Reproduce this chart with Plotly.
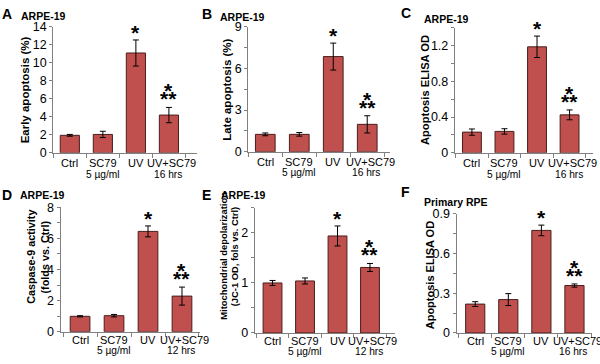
import plotly.graph_objects as go

W, H = 600, 364

# ---------------- data ----------------
x_idx = [0, 1, 2, 3]
cats_16h = ["Ctrl", "SC79<br>5 µg/ml", "UV", "UV+SC79<br>16 hrs"]
cats_12h = ["Ctrl", "SC79<br>5 µg/ml", "UV", "UV+SC79<br>12 hrs"]

early_apoptosis = [1.95, 2.05, 11.1, 4.2]
early_apoptosis_err = [0.1, 0.35, 1.45, 0.85]

late_apoptosis = [1.25, 1.25, 6.85, 1.97]
late_apoptosis_err = [0.1, 0.13, 0.97, 0.62]

elisa_arpe = [0.232, 0.24, 1.186, 0.425]
elisa_arpe_err = [0.035, 0.03, 0.12, 0.055]

caspase9 = [0.99, 1.03, 6.45, 2.29]
caspase9_err = [0.04, 0.08, 0.35, 0.58]

mito_depol = [1.0, 1.04, 1.94, 1.31]
mito_depol_err = [0.05, 0.06, 0.2, 0.08]

elisa_primary = [0.218, 0.252, 0.774, 0.358]
elisa_primary_err = [0.018, 0.045, 0.04, 0.012]

ticks_A = [0, 2, 4, 6, 8, 10, 12, 14]
ticks_B = [0, 3, 6, 9]
ticks_C = [0, 0.4, 0.8, 1.2]
ticks_C_text = ["0", "0.4", "0.8", "1.2"]
ticks_D = [0, 2, 4, 6, 8]
ticks_E = [0, 1, 2]
ticks_F = [0, 0.3, 0.6, 0.9]
ticks_F_text = ["0", "0.3", "0.6", "0.9"]

panels = [
    dict(letter="A", cell="ARPE-19", ytitle=["Early apoptosis (%)"], cats=cats_16h,
         vals=early_apoptosis, err=early_apoptosis_err, yticks=ticks_A, yticktext=None,
         yrange=[0, 14], minor=None),
    dict(letter="B", cell="ARPE-19", ytitle=["Late apoptosis (%)"], cats=cats_16h,
         vals=late_apoptosis, err=late_apoptosis_err, yticks=ticks_B, yticktext=None,
         yrange=[0, 9], minor=1.5),
    dict(letter="C", cell="ARPE-19", ytitle=["Apoptosis ELISA OD"], cats=cats_16h,
         vals=elisa_arpe, err=elisa_arpe_err, yticks=ticks_C, yticktext=ticks_C_text,
         yrange=[0, 1.4], minor=0.2),
    dict(letter="D", cell="ARPE-19", ytitle=["Caspase-9 activity", "(folds vs. Ctrl)"],
         cats=cats_12h, vals=caspase9, err=caspase9_err, yticks=ticks_D, yticktext=None,
         yrange=[0, 8], minor=1),
    dict(letter="E", cell="ARPE-19",
         ytitle=["Mitochondrial depolarization", "(JC-1 OD, fols vs. Ctrl)"],
         cats=cats_12h, vals=mito_depol, err=mito_depol_err, yticks=ticks_E, yticktext=None,
         yrange=[0, 2.5], minor=0.5),
    dict(letter="F", cell="Primary RPE", ytitle=["Apoptosis ELISA OD"], cats=cats_16h,
         vals=elisa_primary, err=elisa_primary_err, yticks=ticks_F, yticktext=ticks_F_text,
         yrange=[0, 0.9], minor=0.15),
]

# ---------------- geometry (pixels) ----------------
geom = [
    dict(x0=53.3, x1=197, yb=151.7, yt=20.7, xr=[-0.5, 3.85], lab=(10.8, 22),
         letter=(6.5, 7.5), cell=(19, 9.7), ytitle=([25], 86.7, 11.5)),
    dict(x0=248.3, x1=390, yb=150.5, yt=20.5, xr=[-0.5, 3.67], lab=(10.8, 22),
         letter=(206.5, 7), cell=(218, 10), ytitle=([227.5], 86.7, 11.5)),
    dict(x0=455, x1=593, yb=151.7, yt=21.5, xr=[-0.52, 3.72], lab=(10.8, 22),
         letter=(405.5, 6), cell=(421.7, 13), ytitle=([425.7], 86.7, 11.2)),
    dict(x0=60.7, x1=200, yb=337.7, yt=208.3, xr=[-0.57, 3.53], lab=(8.5, 19.8),
         letter=(6.5, 195), cell=(18, 195), ytitle=([30.8, 44.5], 260, 10.8)),
    dict(x0=255, x1=395, yb=339, yt=209, xr=[-0.54, 3.77], lab=(8.5, 19.5),
         letter=(206, 195), cell=(219, 195), ytitle=([222.7, 234.3], 259, 9.4)),
    dict(x0=456.7, x1=592, yb=339, yt=215, xr=[-0.56, 3.53], lab=(8, 19),
         letter=(405.5, 192), cell=(421.7, 203), ytitle=([430], 279, 11)),
]
label_xshift = [0, 0, 0, 3]

BAR = "#C0504D"
EDGE = "#4a1e1e"
AX = "#808080"
FONT = "Liberation Sans, Arial, sans-serif"
STAR = 21

fig = go.Figure()
annotations = []
layout = dict(
    width=W, height=H, margin=dict(l=0, r=0, t=0, b=0),
    paper_bgcolor="white", plot_bgcolor="white", showlegend=False,
    font=dict(family=FONT, color="black"),
)

for i, (p, g) in enumerate(zip(panels, geom), start=1):
    xa = "x" if i == 1 else f"x{i}"
    ya = "y" if i == 1 else f"y{i}"
    fig.add_trace(go.Bar(
        x=x_idx, y=p["vals"], width=0.58,
        marker=dict(color=BAR, line=dict(color=EDGE, width=1)),
        error_y=dict(type="data", array=p["err"], color="black", thickness=1, width=3),
        xaxis=xa, yaxis=ya, hoverinfo="skip",
    ))
    xkey = "xaxis" if i == 1 else f"xaxis{i}"
    ykey = "yaxis" if i == 1 else f"yaxis{i}"
    layout[xkey] = dict(
        domain=[g["x0"] / W, g["x1"] / W], anchor=ya, range=g["xr"],
        tickvals=x_idx, showticklabels=False, ticks="",
        showgrid=False, zeroline=False,
        showline=True, linecolor=AX, linewidth=1.2,
        minor=dict(tickmode="array", tickvals=[-0.5, 0.5, 1.5, 2.5, 3.5],
                   ticks="outside", ticklen=4, tickcolor=AX, tickwidth=1),
        fixedrange=True,
    )
    ydict = dict(
        domain=[1 - g["yb"] / H, 1 - g["yt"] / H], anchor=xa, range=p["yrange"],
        tickmode="array", tickvals=p["yticks"], showgrid=False, zeroline=False,
        showline=True, linecolor=AX, linewidth=1.2,
        ticks="outside", ticklen=3, tickcolor=AX, tickwidth=1,
        tickfont=dict(size=12.5, family=FONT, color="black"), fixedrange=True,
    )
    if p["yticktext"] is not None:
        ydict["ticktext"] = p["yticktext"]
    if p["minor"]:
        ydict["minor"] = dict(dtick=p["minor"], tick0=0, ticks="outside", ticklen=3,
                              tickcolor=AX, tickwidth=1)
    layout[ykey] = ydict

    off1, off2 = g["lab"]
    for xv, cat, xs in zip(x_idx, p["cats"], label_xshift):
        lines = cat.split("<br>")
        annotations.append(dict(text=lines[0], x=xv, y=1 - (g["yb"] + off1) / H,
                                xref=xa, yref="paper", xanchor="center", yanchor="middle",
                                xshift=xs, showarrow=False,
                                font=dict(size=11, family=FONT, color="black")))
        if len(lines) > 1:
            annotations.append(dict(text=lines[1], x=xv, y=1 - (g["yb"] + off2) / H,
                                    xref=xa, yref="paper", xanchor="center", yanchor="middle",
                                    xshift=-1 if xs else 0, showarrow=False,
                                    font=dict(size=10.2, family=FONT, color="black")))

    lx, ly = g["letter"]
    annotations.append(dict(text=f"<b>{p['letter']}</b>", x=lx / W, y=1 - ly / H,
                            xref="paper", yref="paper", xanchor="center", yanchor="middle",
                            showarrow=False, font=dict(size=14, family=FONT)))
    cx, cy = g["cell"]
    annotations.append(dict(text=f"<b>{p['cell']}</b>", x=cx / W, y=1 - cy / H,
                            xref="paper", yref="paper", xanchor="left", yanchor="middle",
                            showarrow=False, font=dict(size=10.5, family=FONT)))
    txs, ty, ts = g["ytitle"]
    for line, tx in zip(p["ytitle"], txs):
        annotations.append(dict(text=f"<b>{line}</b>", x=tx / W, y=1 - ty / H,
                                xref="paper", yref="paper", xanchor="center", yanchor="middle",
                                textangle=-90, showarrow=False,
                                font=dict(size=ts, family=FONT)))
    top_uv = p["vals"][2] + p["err"][2]
    top_co = p["vals"][3] + p["err"][3]
    annotations.append(dict(text="<b>*</b>", x=2, y=top_uv, xref=xa, yref=ya,
                            xanchor="center", yanchor="bottom", yshift=-6, showarrow=False,
                            font=dict(size=STAR, family=FONT)))
    annotations.append(dict(text="<b>**</b>", x=3, y=top_co, xref=xa, yref=ya,
                            xanchor="center", yanchor="bottom", yshift=-5, showarrow=False,
                            font=dict(size=STAR, family=FONT)))
    annotations.append(dict(text="<b>*</b>", x=3, y=top_co, xref=xa, yref=ya,
                            xanchor="center", yanchor="bottom", yshift=3, showarrow=False,
                            font=dict(size=STAR, family=FONT)))

layout["annotations"] = annotations
fig.update_layout(**layout)
fig.write_html(
    "out.html",
    config={"displayModeBar": False, "staticPlot": True},
    post_script="document.body.style.margin='0px';document.body.style.overflow='hidden';",
)
